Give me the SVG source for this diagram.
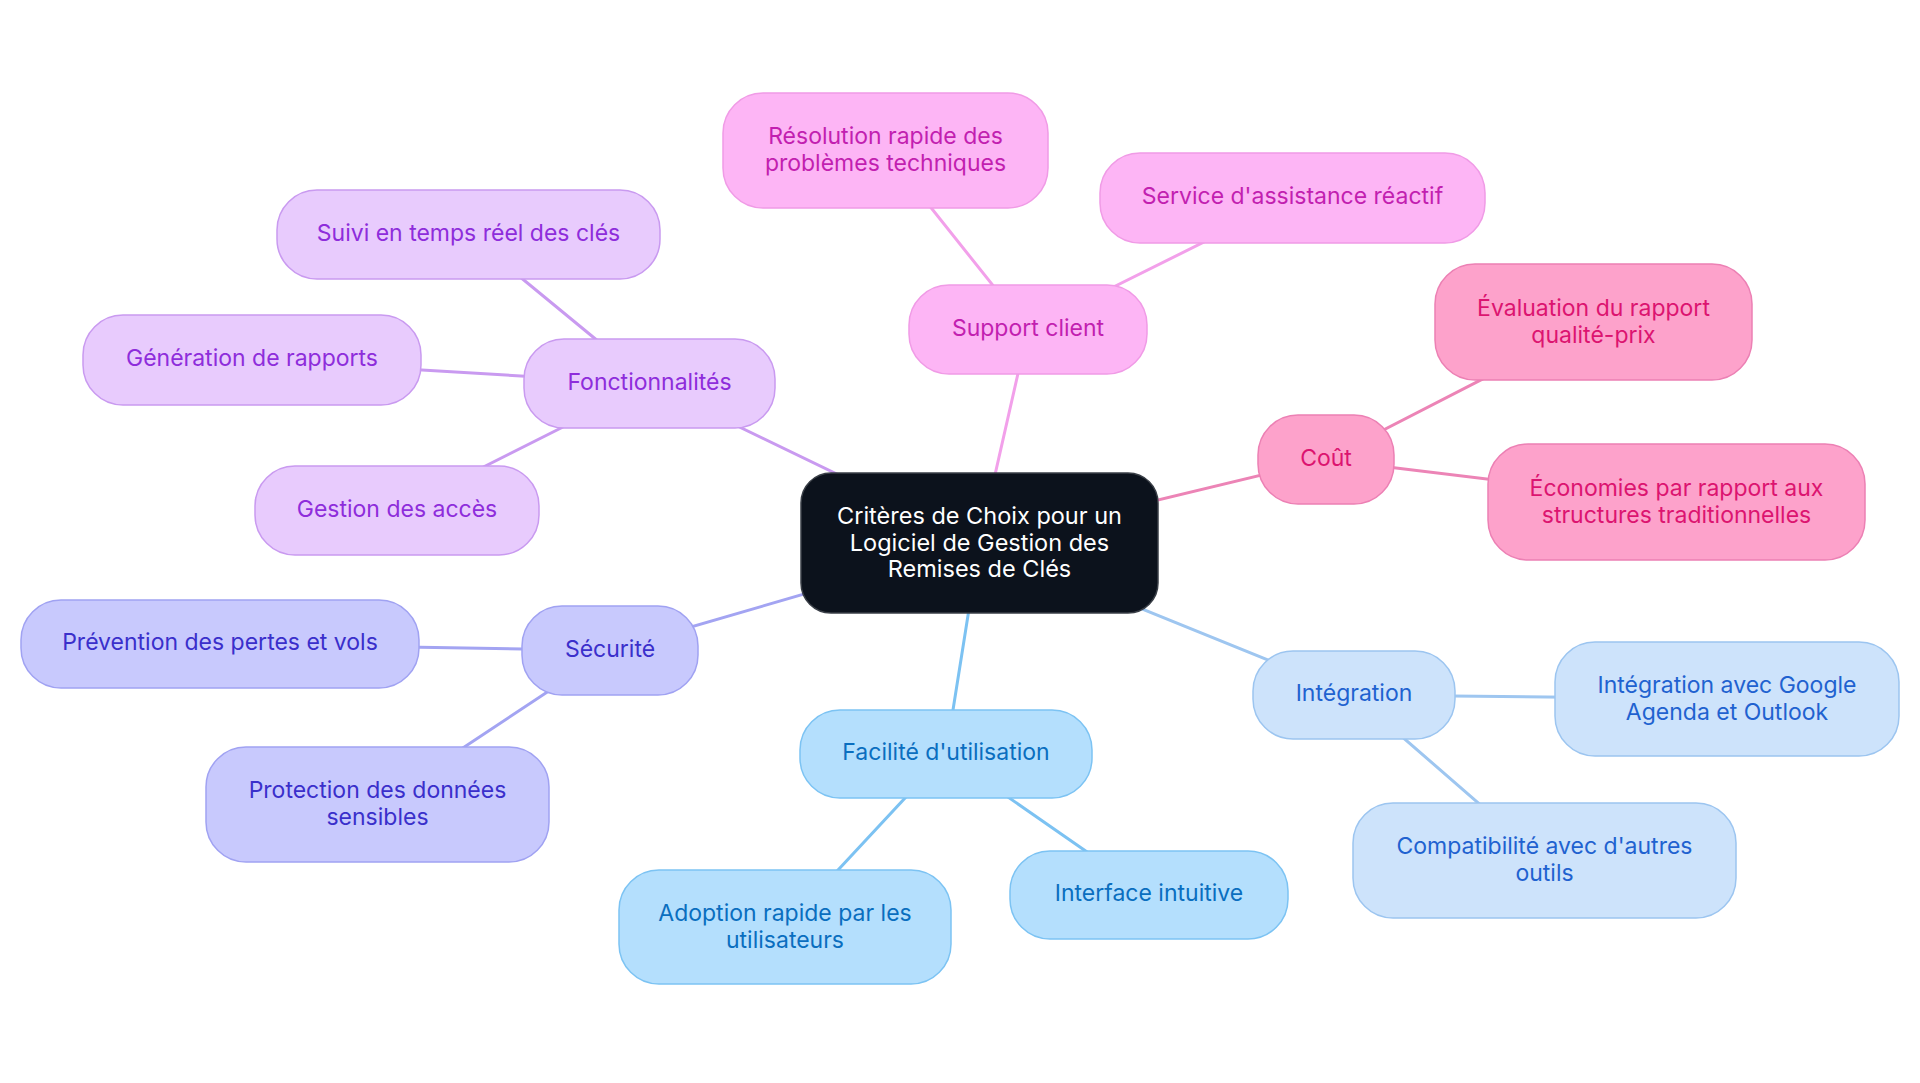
<svg xmlns="http://www.w3.org/2000/svg" width="1920" height="1083" viewBox="0 0 1920 1083">
<style>
text{font-family:Inter,"Noto Sans","Liberation Sans",sans-serif;font-size:23px;text-anchor:middle}
.ln{stroke-width:3;fill:none;stroke-linecap:round}
.n rect{stroke-width:1.5}
.fon rect{fill:#E8CBFD;stroke:#C99AF0}.fon text{fill:#8E2DDB}
.sup rect{fill:#FDB5F5;stroke:#F09BE6}.sup text{fill:#C21FB0}
.cou rect{fill:#FDA2CB;stroke:#EC80B4}.cou text{fill:#DC1470}
.sec rect{fill:#C8C9FD;stroke:#A0A2F2}.sec text{fill:#3A2FCB}
.fac rect{fill:#B4DFFD;stroke:#7CC3F3}.fac text{fill:#0A6EBF}
.int rect{fill:#CDE3FB;stroke:#9CC5F0}.int text{fill:#1F62D0}
</style>
<rect width="1920" height="1083" fill="#FFFFFF"/>
<g id="connectors">
<g stroke="#C99AF0" class="ln">
<line x1="649.5" y1="383.5" x2="979.5" y2="543"/>
<line x1="649.5" y1="383.5" x2="468.5" y2="234.5"/>
<line x1="649.5" y1="383.5" x2="252" y2="360"/>
<line x1="649.5" y1="383.5" x2="397" y2="510.5"/>
</g>
<g stroke="#F2A0EA" class="ln">
<line x1="1028" y1="329.5" x2="979.5" y2="543"/>
<line x1="1028" y1="329.5" x2="885.5" y2="150.5"/>
<line x1="1028" y1="329.5" x2="1292.5" y2="198"/>
</g>
<g stroke="#EC84B6" class="ln">
<line x1="1326" y1="459.5" x2="979.5" y2="543"/>
<line x1="1326" y1="459.5" x2="1593.5" y2="322"/>
<line x1="1326" y1="459.5" x2="1676.5" y2="502"/>
</g>
<g stroke="#A3A4F2" class="ln">
<line x1="610" y1="650.5" x2="979.5" y2="543"/>
<line x1="610" y1="650.5" x2="220" y2="644"/>
<line x1="610" y1="650.5" x2="377.5" y2="804.5"/>
</g>
<g stroke="#7CC2F2" class="ln">
<line x1="946" y1="754" x2="979.5" y2="543"/>
<line x1="946" y1="754" x2="785" y2="927"/>
<line x1="946" y1="754" x2="1149" y2="895"/>
</g>
<g stroke="#9EC6F0" class="ln">
<line x1="1354" y1="695" x2="979.5" y2="543"/>
<line x1="1354" y1="695" x2="1727" y2="699"/>
<line x1="1354" y1="695" x2="1544.5" y2="860.5"/>
</g>
</g>
<g id="center" class="n">
<rect x="801" y="473" width="357" height="140" rx="30" fill="#0C121C" stroke="#3A3F47"/>
<text fill="#FFFFFF" style="font-size:23.5px"><tspan x="979.5" y="523.5">Critères de Choix pour un</tspan><tspan x="979.5" y="550.5">Logiciel de Gestion des</tspan><tspan x="979.5" y="576.5">Remises de Clés</tspan></text>
</g>
<g id="fonctionnalites" class="n fon"><rect x="524" y="339" width="251" height="89" rx="40"/><text x="649.5" y="390">Fonctionnalités</text></g>
<g id="suivi" class="n fon"><rect x="277" y="190" width="383" height="89" rx="40"/><text x="468.5" y="241">Suivi en temps réel des clés</text></g>
<g id="generation" class="n fon"><rect x="83" y="315" width="338" height="90" rx="40"/><text x="252" y="366">Génération de rapports</text></g>
<g id="gestion" class="n fon"><rect x="255" y="466" width="284" height="89" rx="40"/><text x="397" y="517">Gestion des accès</text></g>
<g id="support" class="n sup"><rect x="909" y="285" width="238" height="89" rx="40"/><text x="1028" y="336">Support client</text></g>
<g id="resolution" class="n sup"><rect x="723" y="93" width="325" height="115" rx="40"/><text><tspan x="885.5" y="143.5">Résolution rapide des</tspan><tspan x="885.5" y="170.5">problèmes techniques</tspan></text></g>
<g id="service" class="n sup"><rect x="1100" y="153" width="385" height="90" rx="40"/><text x="1292.5" y="204">Service d'assistance réactif</text></g>
<g id="cout" class="n cou"><rect x="1258" y="415" width="136" height="89" rx="40"/><text x="1326" y="466">Coût</text></g>
<g id="evaluation" class="n cou"><rect x="1435" y="264" width="317" height="116" rx="40"/><text><tspan x="1593.5" y="315.5">Évaluation du rapport</tspan><tspan x="1593.5" y="342.5">qualité-prix</tspan></text></g>
<g id="economies" class="n cou"><rect x="1488" y="444" width="377" height="116" rx="40"/><text><tspan x="1676.5" y="495.5">Économies par rapport aux</tspan><tspan x="1676.5" y="522.5">structures traditionnelles</tspan></text></g>
<g id="securite" class="n sec"><rect x="522" y="606" width="176" height="89" rx="40"/><text x="610" y="657">Sécurité</text></g>
<g id="prevention" class="n sec"><rect x="21" y="600" width="398" height="88" rx="40"/><text x="220" y="650">Prévention des pertes et vols</text></g>
<g id="protection" class="n sec"><rect x="206" y="747" width="343" height="115" rx="40"/><text><tspan x="377.5" y="797.5">Protection des données</tspan><tspan x="377.5" y="824.5">sensibles</tspan></text></g>
<g id="facilite" class="n fac"><rect x="800" y="710" width="292" height="88" rx="40"/><text x="946" y="760">Facilité d'utilisation</text></g>
<g id="adoption" class="n fac"><rect x="619" y="870" width="332" height="114" rx="40"/><text><tspan x="785" y="920.5">Adoption rapide par les</tspan><tspan x="785" y="947.5">utilisateurs</tspan></text></g>
<g id="interface" class="n fac"><rect x="1010" y="851" width="278" height="88" rx="40"/><text x="1149" y="901">Interface intuitive</text></g>
<g id="integration" class="n int"><rect x="1253" y="651" width="202" height="88" rx="40"/><text x="1354" y="701">Intégration</text></g>
<g id="google" class="n int"><rect x="1555" y="642" width="344" height="114" rx="40"/><text><tspan x="1727" y="692.5">Intégration avec Google</tspan><tspan x="1727" y="719.5">Agenda et Outlook</tspan></text></g>
<g id="compatibilite" class="n int"><rect x="1353" y="803" width="383" height="115" rx="40"/><text><tspan x="1544.5" y="853.5">Compatibilité avec d'autres</tspan><tspan x="1544.5" y="880.5">outils</tspan></text></g>
</svg>
